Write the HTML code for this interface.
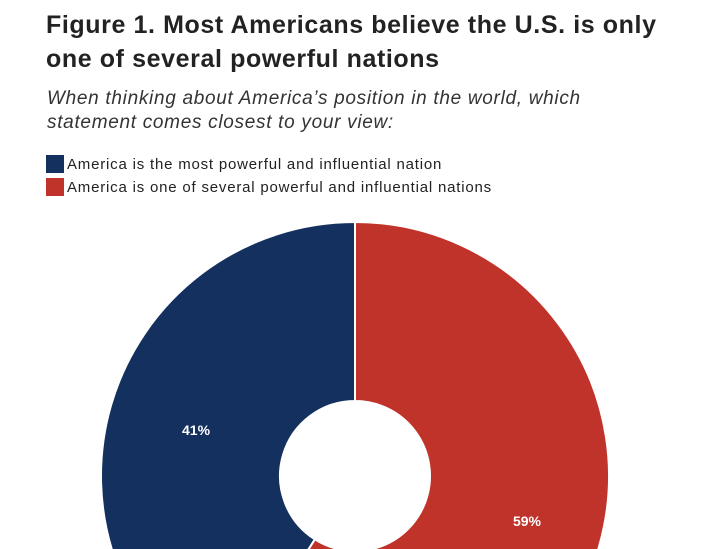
<!DOCTYPE html>
<html><head><meta charset="utf-8"><style>
html,body{margin:0;width:720px;height:549px;overflow:hidden}
body{background:#fff;font-family:"Liberation Sans",sans-serif;position:relative}
.t{position:absolute;left:46px;top:8px;font-size:25px;font-weight:bold;color:#222;line-height:34px;letter-spacing:0.6px;white-space:nowrap}
.s{position:absolute;left:47px;top:87px;font-size:19px;font-style:italic;color:#333;line-height:24px;letter-spacing:0.7px;white-space:nowrap}
.lg{position:absolute;left:46px;font-size:15px;color:#222;line-height:20px;letter-spacing:0.8px;white-space:nowrap}
.sw{display:inline-block;width:18px;height:18px;vertical-align:-4px;margin-right:3px}
svg{position:absolute;left:0;top:0}
</style></head><body>
<div class="t">Figure 1. Most Americans believe the U.S. is only<br>one of several powerful nations</div>
<div class="s">When thinking about America’s position in the world, which<br>statement comes closest to your view:</div>
<div class="lg" style="top:155px"><span class="sw" style="background:#14305e"></span>America is the most powerful and influential nation</div>
<div class="lg" style="top:178px"><span class="sw" style="background:#c0332a"></span>America is one of several powerful and influential nations</div>
<svg width="720" height="549" id="chart"></svg>
<script>
const categories=["One of several","Most powerful"];
const values=[59,41];
const labels=["59%","41%"];
const colors=["#c0332a","#14305e"];
const cx=355,cy=476,R=254,r=75;
const svg=document.getElementById('chart');
const ns="http://www.w3.org/2000/svg";
const total=values.reduce((a,b)=>a+b,0);
let acc=0;
function pt(a,rad){return [cx+rad*Math.sin(a),cy-rad*Math.cos(a)];}
values.forEach((v,i)=>{
  const a0=acc/total*2*Math.PI;acc+=v;const a1=acc/total*2*Math.PI;
  const large=(a1-a0)>Math.PI?1:0;
  const [x0,y0]=pt(a0,R),[x1,y1]=pt(a1,R),[x2,y2]=pt(a1,r),[x3,y3]=pt(a0,r);
  const p=document.createElementNS(ns,'path');
  p.setAttribute('d',`M${x0},${y0}A${R},${R} 0 ${large} 1 ${x1},${y1}L${x2},${y2}A${r},${r} 0 ${large} 0 ${x3},${y3}Z`);
  p.setAttribute('fill',colors[i]);p.setAttribute('stroke','#fff');p.setAttribute('stroke-width','2');
  
  
  svg.appendChild(p);
  const am=(a0+a1)/2;const [lx,ly]=pt(am,(R+r)/2);
  const t=document.createElementNS(ns,'text');
  t.setAttribute('x',i===0?lx+14:lx-1);t.setAttribute('y',i===0?ly+4:ly+5);
  t.setAttribute('fill','#fff');t.setAttribute('font-size','14');t.setAttribute('font-weight','bold');
  t.setAttribute('text-anchor','middle');t.setAttribute('font-family','Liberation Sans, sans-serif');
  t.textContent=labels[i];
  
  
  svg.appendChild(t);
});
</script>
</body></html>
